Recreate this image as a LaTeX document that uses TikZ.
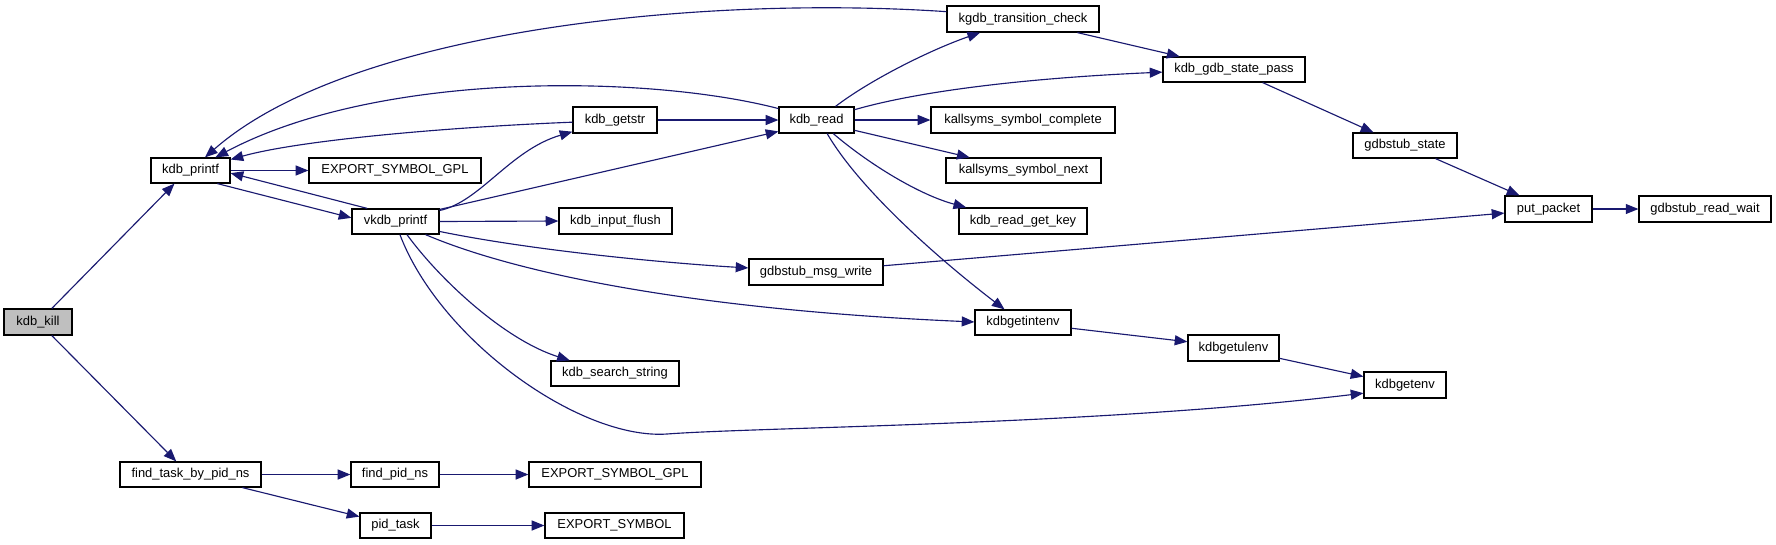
\documentclass[tikz,border=0pt]{standalone}
\usepackage{fontspec}
\setmainfont{Liberation Sans}
\usetikzlibrary{arrows.meta,calc}
\definecolor{edgec}{HTML}{191970}
\definecolor{killc}{HTML}{BFBFBF}
\tikzset{
 box/.style={draw=black, line width=0.9pt, fill=white, inner sep=0pt, font=\fontsize{9.7}{11}\selectfont, text=black},
 edge/.style={draw=edgec, line width=0.85pt, -{Triangle[length=9.5pt,width=7.5pt]}}
}
\newcommand\bx[7]{\node[box,#1,minimum width={(#5-#3)*0.75pt},minimum height={(#6-#4)*0.75pt}] (#2) at ({(#3+#5)/2},{(#4+#6)/2}) {#7};}
\begin{document}
\begin{tikzpicture}[x=0.75pt,y=-0.75pt]
\fill[white] (0,0) rectangle (1776,544);
\useasboundingbox (0,0) rectangle (1776,544);
\bx{fill=killc}{kill}{4}{309}{72}{335}{kdb\_kill}
\bx{}{printf}{151}{158}{230}{183}{kdb\_printf}
\bx{}{esgpl1}{309}{158}{481}{183}{EXPORT\_SYMBOL\_GPL}
\bx{}{vkdb}{352}{209}{439}{234}{vkdb\_printf}
\bx{}{getstr}{573}{107}{657}{133}{kdb\_getstr}
\bx{}{read}{779}{107}{854}{133}{kdb\_read}
\bx{}{ktc}{947}{6}{1099}{32}{kgdb\_transition\_check}
\bx{}{gsp}{1163}{57}{1305}{82}{kdb\_gdb\_state\_pass}
\bx{}{ksc}{931}{107}{1115}{133}{kallsyms\_symbol\_complete}
\bx{}{ksn}{946}{158}{1101}{183}{kallsyms\_symbol\_next}
\bx{}{rgk}{959}{208}{1087}{234}{kdb\_read\_get\_key}
\bx{}{flush}{559}{208}{672}{234}{kdb\_input\_flush}
\bx{}{gstate}{1353}{133}{1457}{158}{gdbstub\_state}
\bx{}{put}{1505}{196}{1592}{222}{put\_packet}
\bx{}{grw}{1639}{196}{1771}{222}{gdbstub\_read\_wait}
\bx{}{msgw}{749}{259}{883}{285}{gdbstub\_msg\_write}
\bx{}{intenv}{975}{310}{1071}{335}{kdbgetintenv}
\bx{}{ulenv}{1188}{335}{1279}{361}{kdbgetulenv}
\bx{}{getenv}{1364}{372}{1446}{398}{kdbgetenv}
\bx{}{search}{551}{361}{679}{386}{kdb\_search\_string}
\bx{}{ftask}{120}{462}{261}{487}{find\_task\_by\_pid\_ns}
\bx{}{fpid}{351}{462}{439}{487}{find\_pid\_ns}
\bx{}{esgpl2}{529}{462}{701}{487}{EXPORT\_SYMBOL\_GPL}
\bx{}{pidtask}{360}{513}{431}{538}{pid\_task}
\bx{}{es}{545}{513}{684}{538}{EXPORT\_SYMBOL}

\draw[edge] ($(kill.north west)!0.7!(kill.north east)$) -- ($(printf.south west)!0.3!(printf.south east)$);
\draw[edge] ($(kill.south west)!0.7!(kill.south east)$) -- ($(ftask.north west)!0.4!(ftask.north east)$);
\draw[edge] (printf.east) -- (esgpl1.west);
\draw[edge] ($(printf.south west)!0.835!(printf.south east)$) -- ($(vkdb.north west)!0.36!(vkdb.south west)$);
\draw[edge] ($(vkdb.north west)!0.18!(vkdb.north east)$) -- ($(printf.north east)!0.6!(printf.south east)$);
\draw[edge] ($(vkdb.north east)!0.08!(vkdb.south east)$) .. controls (480,202) and (510,150) .. ($(getstr.north west)!0.93!(getstr.south west)$);
\draw[edge] ($(vkdb.north east)!0.04!(vkdb.south east)$) -- ($(read.north west)!0.92!(read.south west)$);
\draw[edge] (vkdb.east) -- (flush.west);
\draw[edge] ($(vkdb.north east)!0.88!(vkdb.south east)$) .. controls (540,252) and (680,264) .. ($(msgw.north west)!0.35!(msgw.south west)$);
\draw[edge] ($(vkdb.south west)!0.84!(vkdb.south east)$) .. controls (520,275) and (700,310) .. ($(intenv.north west)!0.48!(intenv.south west)$);
\draw[edge] ($(vkdb.south west)!0.63!(vkdb.south east)$) .. controls (440,280) and (505,340) .. ($(search.north west)!0.15!(search.north east)$);
\draw[edge] ($(vkdb.south west)!0.55!(vkdb.south east)$) .. controls (440,340) and (580,440) .. (667,434) .. controls (760,427) and (1100,425) .. ($(getenv.north west)!0.8!(getenv.south west)$);
\draw[edge] (getstr.east) -- (read.west);
\draw[edge] ($(getstr.north west)!0.58!(getstr.south west)$) .. controls (450,127) and (300,140) .. ($(printf.north east)!0.08!(printf.south east)$);
\draw[edge] ($(read.north west)!0.08!(read.south west)$) .. controls (650,75) and (380,70) .. ($(printf.north west)!0.81!(printf.north east)$);
\draw[edge] ($(ktc.north west)!0.23!(ktc.south west)$) .. controls (700,-5) and (350,30) .. ($(printf.north west)!0.68!(printf.north east)$);
\draw[edge] ($(read.north west)!0.75!(read.north east)$) .. controls (870,80) and (930,50) .. ($(ktc.south west)!0.22!(ktc.south east)$);
\draw[edge] ($(read.north east)!0.12!(read.south east)$) .. controls (930,88) and (1050,77) .. ($(gsp.north west)!0.6!(gsp.south west)$);
\draw[edge] (read.east) -- (ksc.west);
\draw[edge] ($(read.north east)!0.88!(read.south east)$) -- ($(ksn.north west)!0.155!(ksn.north east)$);
\draw[edge] ($(read.south west)!0.72!(read.south east)$) .. controls (870,165) and (920,195) .. ($(rgk.north west)!0.06!(rgk.north east)$);
\draw[edge] ($(read.south west)!0.64!(read.south east)$) .. controls (860,190) and (940,260) .. ($(intenv.north west)!0.31!(intenv.north east)$);
\draw[edge] ($(ktc.south west)!0.855!(ktc.south east)$) -- ($(gsp.north west)!0.12!(gsp.north east)$);
\draw[edge] ($(gsp.south west)!0.70!(gsp.south east)$) -- ($(gstate.north west)!0.2!(gstate.north east)$);
\draw[edge] ($(gstate.south west)!0.79!(gstate.south east)$) -- ($(put.north west)!0.17!(put.north east)$);
\draw[edge] ($(msgw.north east)!0.27!(msgw.south east)$) -- ($(put.north west)!0.65!(put.south west)$);
\draw[edge] (put.east) -- (grw.west);
\draw[edge] ($(intenv.north east)!0.72!(intenv.south east)$) -- ($(ulenv.north west)!0.27!(ulenv.south west)$);
\draw[edge] ($(ulenv.north east)!0.88!(ulenv.south east)$) -- ($(getenv.north west)!0.19!(getenv.south west)$);
\draw[edge] (ftask.east) -- (fpid.west);
\draw[edge] ($(ftask.south west)!0.865!(ftask.south east)$) -- ($(pidtask.north west)!0.16!(pidtask.south west)$);
\draw[edge] (fpid.east) -- (esgpl2.west);
\draw[edge] (pidtask.east) -- (es.west);
\end{tikzpicture}
\end{document}
